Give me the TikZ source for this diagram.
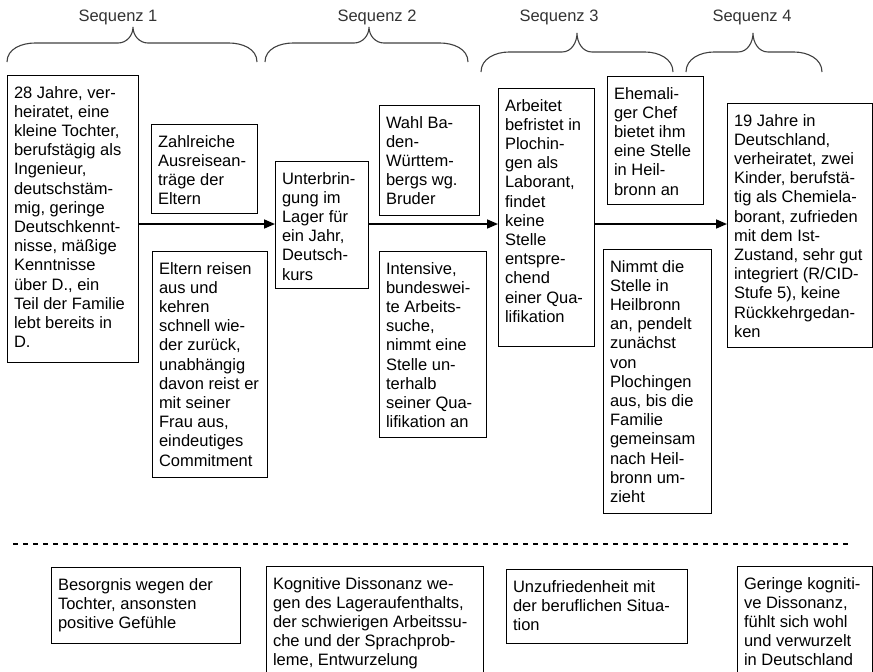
\documentclass[tikz,border=0pt]{standalone}
\usepackage{fontspec}
\setmainfont{Liberation Sans}
\usetikzlibrary{arrows.meta}

% A text panel: name, left, top, width, height, lines (top-left aligned text)
\newcommand{\panel}[6]{%
  \node[panel] (#1) at (#2,#3)
    {\parbox[t][#5pt][t]{\dimexpr#4pt-14pt\relax}{\raggedright\rule{0pt}{23pt}#6}};}

% A curly brace over a sequence: left x, right x, tip x, end y, middle y, tip y
\newcommand{\seqbrace}[6]{%
  \draw[brace] (#1,#4) to[out=90,in=180] ({#1+28},#5) -- ({#3-15},#5)
    to[out=0,in=-90] (#3,#6) to[out=-90,in=180] ({#3+15},#5)
    -- ({#2-28},#5) to[out=0,in=90] (#2,#4);}

\tikzset{
  panel/.style={draw=black, line width=0.8pt, anchor=north west,
    inner xsep=7pt, inner ysep=0pt, outer sep=0pt,
    font=\fontsize{16.5}{19.2}\selectfont},
  seqlabel/.style={anchor=base, inner sep=0pt, text=black!80,
    font=\fontsize{16.5}{19.2}\selectfont},
  brace/.style={draw=black!75, line width=1.1pt},
  flow/.style={draw=black, line width=1.6pt,
    -{Triangle[length=11pt,width=9pt]}},
  divider/.style={draw=black, line width=1.3pt, dash pattern=on 5pt off 5pt},
}

\begin{document}
\begin{tikzpicture}[x=1pt,y=-1pt]
  \path[use as bounding box, clip] (0,0) rectangle (873,672);

  % sequence headings and braces
  \node[seqlabel] (s1) at (118,21) {Sequenz 1};
  \node[seqlabel] (s2) at (377,21) {Sequenz 2};
  \node[seqlabel] (s3) at (559,21) {Sequenz 3};
  \node[seqlabel] (s4) at (752,21) {Sequenz 4};
  \seqbrace{7}{257}{133}{62}{43}{27}
  \seqbrace{265}{468}{369}{62}{43}{27}
  \seqbrace{481}{673}{577}{72}{52}{33}
  \seqbrace{686}{822}{753}{72}{52}{33}

  % sequence 1
  \panel{start}{7}{75}{131}{287}{28 Jahre, ver-\\heiratet, eine\\kleine Tochter,\\berufstägig als\\Ingenieur,\\deutschstäm-\\mig, geringe\\Deutschkennt-\\nisse, mäßige\\Kenntnisse\\über D., ein\\Teil der Familie\\lebt bereits in\\D.}
  \panel{antraege}{151}{124}{106}{89}{Zahlreiche\\Ausreisean-\\träge der\\Eltern}
  \panel{eltern}{152}{251}{115}{226}{Eltern reisen\\aus und\\kehren\\schnell wie-\\der zurück,\\unabhängig\\davon reist er\\mit seiner\\Frau aus,\\eindeutiges\\Commitment}

  % sequence 2
  \panel{lager}{275}{161}{93}{127}{Unterbrin-\\gung im\\Lager für\\ein Jahr,\\Deutsch-\\kurs}
  \panel{wahl}{379}{105}{100}{110}{Wahl Ba-\\den-\\Württem-\\bergs wg.\\Bruder}
  \panel{suche}{379}{251}{107}{186}{Intensive,\\bundeswei-\\te Arbeits-\\suche,\\nimmt eine\\Stelle un-\\terhalb\\seiner Qua-\\lifikation an}

  % sequence 3
  \panel{labor}{498}{88}{96}{258}{Arbeitet\\befristet in\\Plochin-\\gen als\\Laborant,\\findet\\keine\\Stelle\\entspre-\\chend\\einer Qua-\\lifikation}
  \panel{chef}{607}{76}{96}{128}{Ehemali-\\ger Chef\\bietet ihm\\eine Stelle\\in Heil-\\bronn an}
  \panel{heilbronn}{603}{249}{108}{264}{Nimmt die\\Stelle in\\Heilbronn\\an, pendelt\\zunächst\\von\\Plochingen\\aus, bis die\\Familie\\gemeinsam\\nach Heil-\\bronn um-\\zieht}

  % sequence 4
  \panel{heute}{727}{103}{145}{244}{19 Jahre in\\Deutschland,\\verheiratet, zwei\\Kinder, berufstä-\\tig als Chemiela-\\borant, zufrieden\\mit dem Ist-\\Zustand, sehr gut\\integriert (R/CID-\\Stufe 5), keine\\Rückkehrgedan-\\ken}

  % main time line
  \coordinate (row) at (0,224);
  \draw[flow] (start.east |- row) -- (lager.west |- row);
  \draw[flow] (lager.east |- row) -- (labor.west |- row);
  \draw[flow] (labor.east |- row) -- (heute.west |- row);

  % separator between events and feelings
  \coordinate (divL) at (13,544);
  \coordinate (divR) at (848,544);
  \draw[divider] (divL) -- (divR);

  % feelings per sequence
  \panel{gefuehl1}{51}{567}{189}{76}{Besorgnis wegen der\\Tochter, ansonsten\\positive Gefühle}
  \panel{gefuehl2}{266}{566}{217}{120}{Kognitive Dissonanz we-\\gen des Lageraufenthalts,\\der schwierigen Arbeitssu-\\che und der Sprachprob-\\leme, Entwurzelung}
  \panel{gefuehl3}{506}{569}{181}{74}{Unzufriedenheit mit\\der beruflichen Situa-\\tion}
  \panel{gefuehl4}{737}{566}{135}{120}{Geringe kogniti-\\ve Dissonanz,\\fühlt sich wohl\\und verwurzelt\\in Deutschland}
\end{tikzpicture}
\end{document}
